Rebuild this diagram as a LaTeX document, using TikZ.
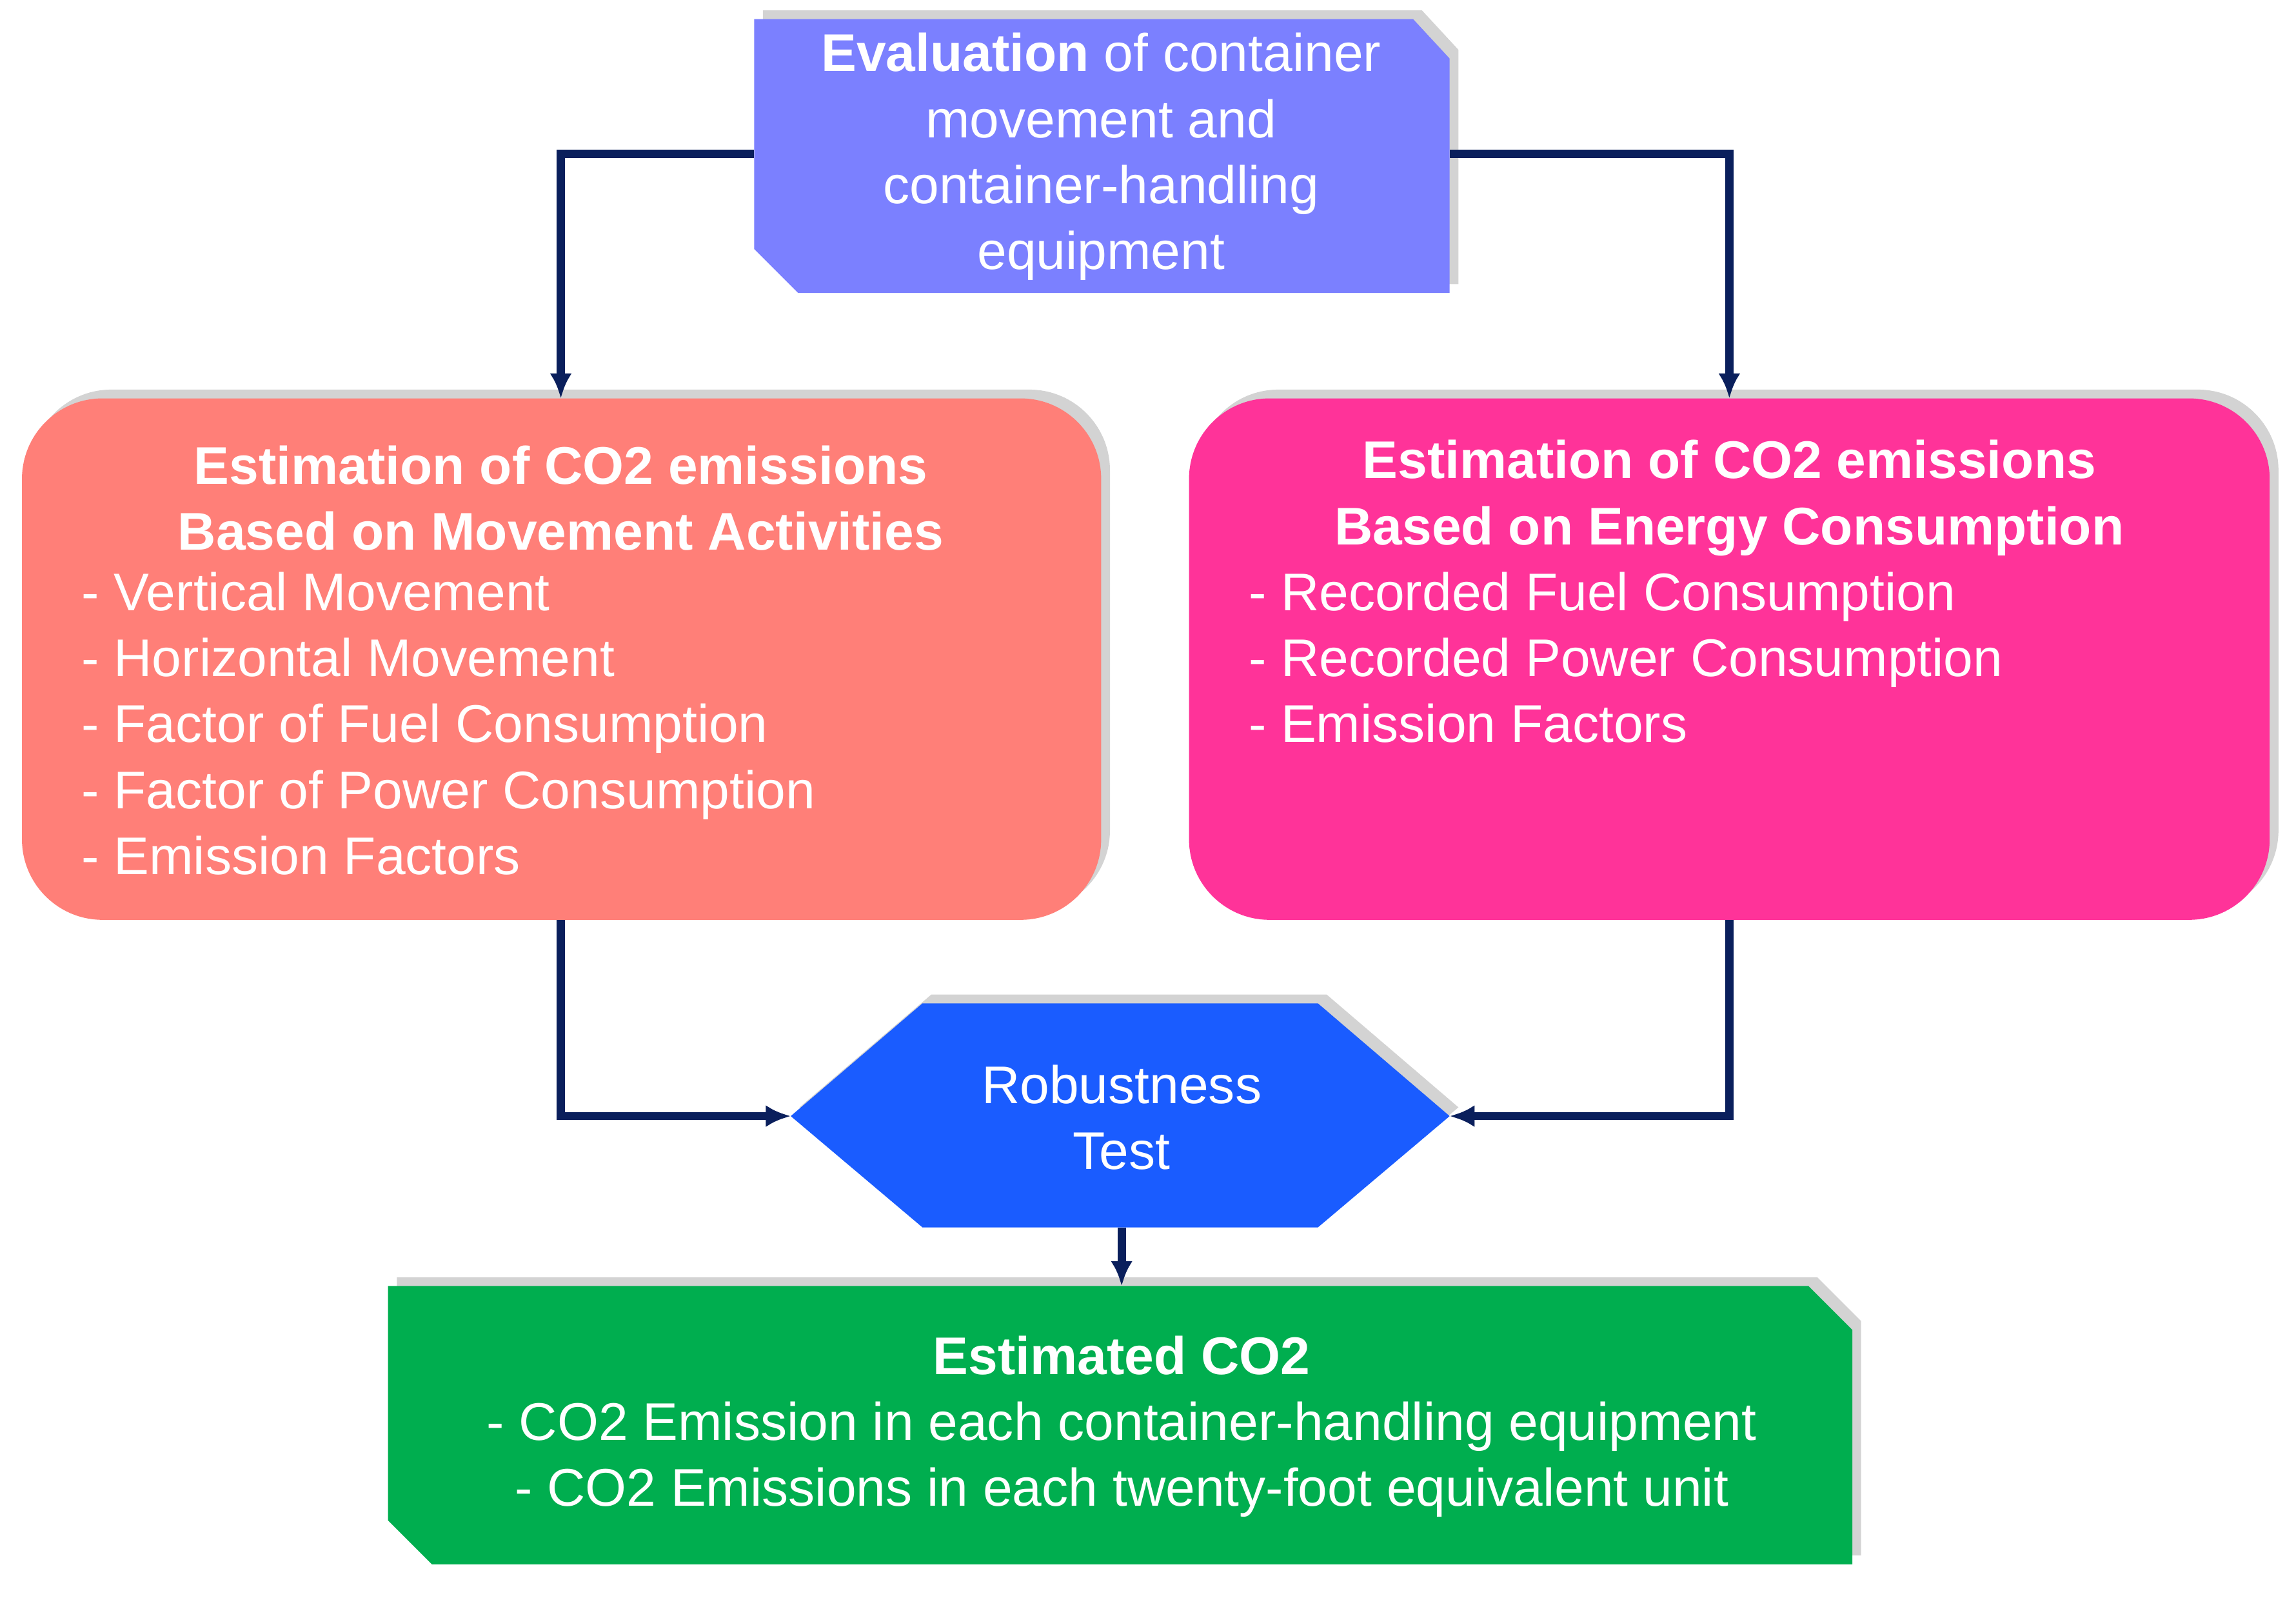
\documentclass[tikz,border=0pt]{standalone}
\usepackage{fontspec}
\setmainfont{Liberation Sans}
\usetikzlibrary{shadows,arrows.meta}
\definecolor{topc}{HTML}{7B80FF}
\definecolor{leftc}{HTML}{FF7F78}
\definecolor{rightc}{HTML}{FF3399}
\definecolor{hexc}{HTML}{1A5CFF}
\definecolor{greenc}{HTML}{00AE4F}
\definecolor{linec}{HTML}{0A1F5C}
\tikzset{
  shp/.style={drop shadow={shadow xshift=0.06,shadow yshift=-0.06,opacity=0.35}},
  conn/.style={draw=linec,line width=1.6pt,-{Latex[length=0.17cm,width=0.15cm]}},
  txt/.style={text=white,font=\fontsize{10.3}{12.8}\selectfont,inner sep=0pt},
  hd/.style={txt,font=\fontsize{10.3}{12.8}\selectfont\bfseries}
}
\begin{document}
\begin{tikzpicture}[x=1cm,y=-1cm]
\useasboundingbox (0,0) rectangle (15.68,10.97);
% shapes
\path[shp,fill=topc] (5.15,0.13) -- (9.65,0.13) -- (9.9,0.4) -- (9.9,2.0) -- (5.45,2.0) -- (5.15,1.7) -- cycle;
\path[shp,fill=leftc,rounded corners=0.55cm] (0.15,2.72) rectangle (7.52,6.28);
\path[shp,fill=rightc,rounded corners=0.55cm] (8.12,2.72) rectangle (15.5,6.28);
\path[shp,fill=hexc] (6.3,6.85) -- (9.0,6.85) -- (9.9,7.62) -- (9.0,8.38) -- (6.3,8.38) -- (5.4,7.62) -- cycle;
\path[shp,fill=greenc] (2.65,8.78) -- (12.35,8.78) -- (12.65,9.08) -- (12.65,10.68) -- (2.95,10.68) -- (2.65,10.38) -- cycle;
% coordinates
\coordinate (topL) at (5.15,1.05);
\coordinate (topR) at (9.9,1.05);
\coordinate (lTop) at (3.83,2.72);
\coordinate (rTop) at (11.81,2.72);
\coordinate (lBot) at (3.83,6.28);
\coordinate (rBot) at (11.81,6.28);
\coordinate (hexL) at (5.4,7.62);
\coordinate (hexR) at (9.9,7.62);
\coordinate (hexB) at (7.66,8.38);
\coordinate (gTop) at (7.66,8.78);
% connectors
\draw[conn] (topL) -| (lTop);
\draw[conn] (topR) -| (rTop);
\draw[conn] (lBot) |- (hexL);
\draw[conn] (rBot) |- (hexR);
\draw[conn] (hexB) -- (gTop);
% texts
\node[txt,align=center] (t1) at (7.52,1.07) {\textbf{Evaluation} of container\\movement and\\container-handling\\equipment};
\node[hd,align=center] (t2) at (3.83,3.4) {Estimation of CO2 emissions\\Based on Movement Activities};
\node[txt,align=left,anchor=north west] (t3) at (0.55,3.9) {- Vertical Movement\\- Horizontal Movement\\- Factor of Fuel Consumption\\- Factor of Power Consumption\\- Emission Factors};
\node[hd,align=center] (t4) at (11.81,3.4) {Estimation of CO2 emissions\\Based on Energy Consumption};
\node[txt,align=left,anchor=north west] (t5) at (8.52,3.9) {- Recorded Fuel Consumption\\- Recorded Power Consumption\\- Emission Factors};
\node[txt,align=center] (t6) at (7.66,7.63) {Robustness\\Test};
\node[txt,align=center] (t7) at (7.66,9.74) {\textbf{Estimated CO2}\\- CO2 Emission in each container-handling equipment\\- CO2 Emissions in each twenty-foot equivalent unit};
\end{tikzpicture}
\end{document}
